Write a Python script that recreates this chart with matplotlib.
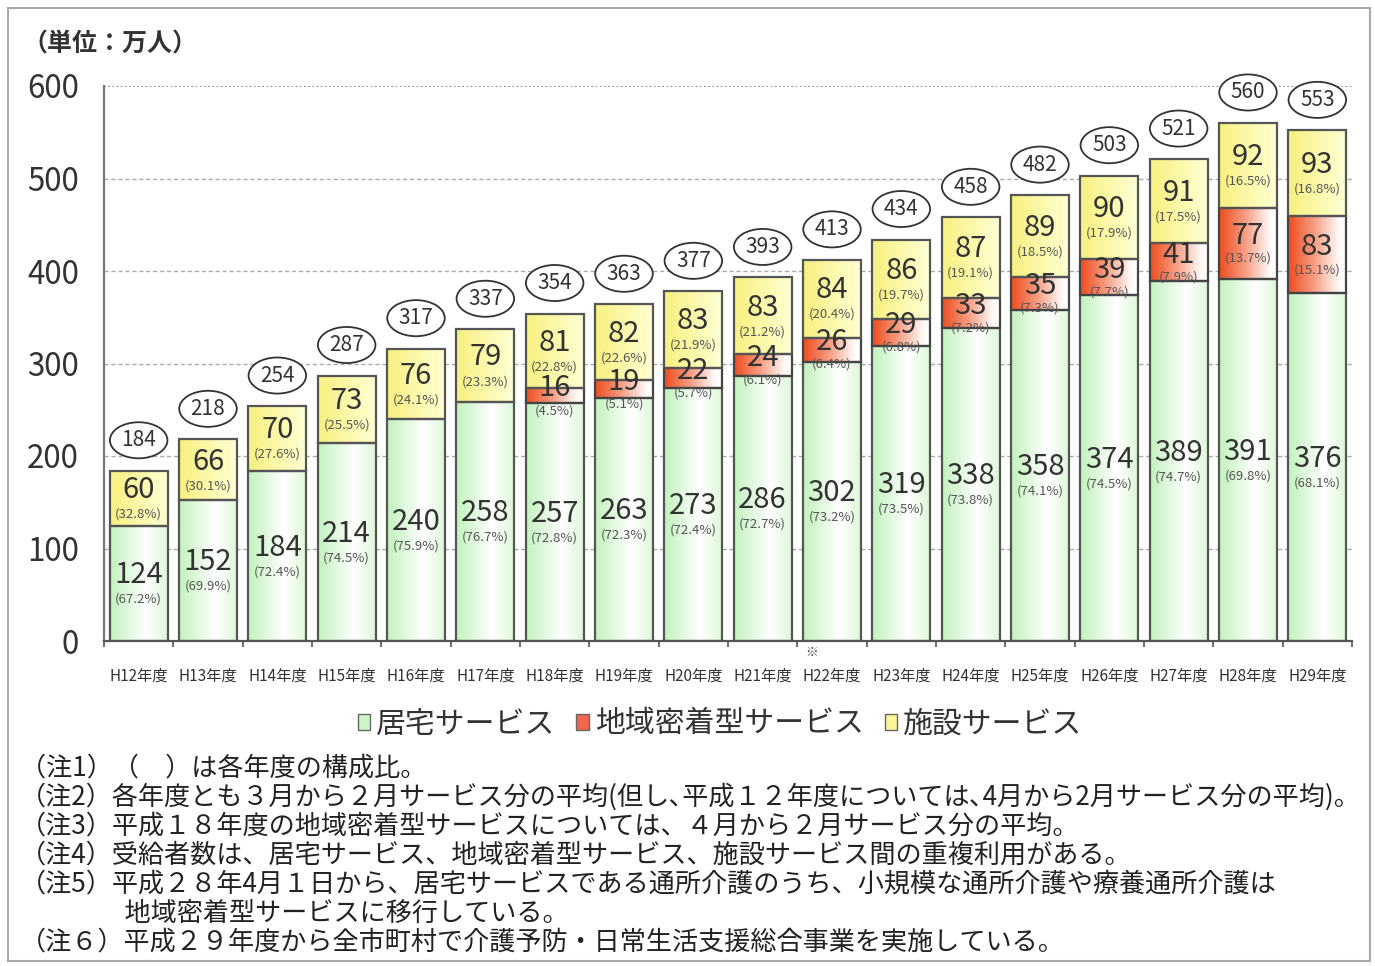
import numpy as np
import matplotlib
matplotlib.use("Agg")
import matplotlib.pyplot as plt
from matplotlib.patches import Ellipse, Rectangle, Patch

plt.rcParams['font.family'] = ['Noto Sans CJK JP', 'DejaVu Sans']

years = ["H12年度", "H13年度", "H14年度", "H15年度", "H16年度", "H17年度", "H18年度", "H19年度", "H20年度",
         "H21年度", "H22年度", "H23年度", "H24年度", "H25年度", "H26年度", "H27年度", "H28年度", "H29年度"]
home = [124, 152, 184, 214, 240, 258, 257, 263, 273, 286, 302, 319, 338, 358, 374, 389, 391, 376]
home_pct = [67.2, 69.9, 72.4, 74.5, 75.9, 76.7, 72.8, 72.3, 72.4, 72.7, 73.2, 73.5, 73.8, 74.1, 74.5, 74.7, 69.8, 68.1]
local = [0, 0, 0, 0, 0, 0, 16, 19, 22, 24, 26, 29, 33, 35, 39, 41, 77, 83]
local_pct = [None, None, None, None, None, None, 4.5, 5.1, 5.7, 6.1, 6.4, 6.8, 7.2, 7.3, 7.7, 7.9, 13.7, 15.1]
facility = [60, 66, 70, 73, 76, 79, 81, 82, 83, 83, 84, 86, 87, 89, 90, 91, 92, 93]
facility_pct = [32.8, 30.1, 27.6, 25.5, 24.1, 23.3, 22.8, 22.6, 21.9, 21.2, 20.4, 19.7, 19.1, 18.5, 17.9, 17.5, 16.5, 16.8]
totals = [184, 218, 254, 287, 317, 337, 354, 363, 377, 393, 413, 434, 458, 482, 503, 521, 560, 553]
series_names = ["居宅サービス", "地域密着型サービス", "施設サービス"]
yticks = [0, 100, 200, 300, 400, 500, 600]

notes = [
    "（注1）（　）は各年度の構成比。",
    "（注2）各年度とも３月から２月サービス分の平均(但し､平成１２年度については､4月から2月サービス分の平均)。",
    "（注3）平成１８年度の地域密着型サービスについては、４月から２月サービス分の平均。",
    "（注4）受給者数は、居宅サービス、地域密着型サービス、施設サービス間の重複利用がある。",
    "（注5）平成２８年4月１日から、居宅サービスである通所介護のうち、小規模な通所介護や療養通所介護は",
    "　　　　地域密着型サービスに移行している。",
    "（注６）平成２９年度から全市町村で介護予防・日常生活支援総合事業を実施している。",
]

W, H = 1375, 966
fig = plt.figure(figsize=(W / 100, H / 100), dpi=100)
fig.patch.set_facecolor('white')
ax = fig.add_axes([104 / W, 1 - 641 / H, (1352 - 104) / W, (641 - 86) / H])

x = np.arange(len(years))
bw = 0.84

def make_grad(stops):
    n = 256
    t = np.linspace(0, 1, n)
    pos = [s[0] for s in stops]
    img = np.zeros((1, n, 3))
    for c in range(3):
        img[0, :, c] = np.interp(t, pos, [s[1][c] for s in stops])
    return img

g_green = make_grad([(0, (0.76, 0.95, 0.74)), (0.62, (1, 1, 1)), (1, (0.86, 0.97, 0.84))])
g_red = make_grad([(0, (0.93, 0.30, 0.12)), (0.45, (0.97, 0.62, 0.52)), (0.85, (1, 0.97, 0.96)), (1, (1, 1, 1))])
g_yel = make_grad([(0, (0.97, 0.94, 0.50)), (0.6, (0.99, 0.98, 0.70)), (1, (1.0, 1.0, 0.84))])

home_a = np.array(home)
local_a = np.array(local)
fac_a = np.array(facility)

b1 = ax.bar(x, home_a, bw, facecolor='none', edgecolor='#555555', linewidth=1.6, zorder=3)
b2 = ax.bar(x, local_a, bw, bottom=home_a, facecolor='none', edgecolor='#444444', linewidth=1.6, zorder=3)
b3 = ax.bar(x, fac_a, bw, bottom=home_a + local_a, facecolor='none', edgecolor='#555555', linewidth=1.6, zorder=3)

for bars, grad in ((b1, g_green), (b2, g_red), (b3, g_yel)):
    for p in bars:
        h = p.get_height()
        if h <= 0:
            p.set_visible(False)
            continue
        x0 = p.get_x()
        y0 = p.get_y()
        ax.imshow(grad, extent=[x0, x0 + p.get_width(), y0, y0 + h], aspect='auto', zorder=2, interpolation='bilinear')

tc = '#333333'
pc = '#555555'
for i in range(len(x)):
    c = home[i] / 2
    ax.text(x[i], c + 9, str(home[i]), ha='center', va='center', fontsize=21, color=tc, zorder=5)
    ax.text(x[i], c - 17, f"({home_pct[i]}%)", ha='center', va='center', fontsize=9.5, color=pc, zorder=5)
    if local[i] > 0:
        c = home[i] + local[i] / 2
        ax.text(x[i], c + 8, str(local[i]), ha='center', va='center', fontsize=21, color=tc, zorder=5)
        ax.text(x[i], c - 16, f"({local_pct[i]}%)", ha='center', va='center', fontsize=9.5, color=pc, zorder=5)
    c = home[i] + local[i] + facility[i] / 2
    ax.text(x[i], c + 9, str(facility[i]), ha='center', va='center', fontsize=21, color=tc, zorder=5)
    ax.text(x[i], c - 17, f"({facility_pct[i]}%)", ha='center', va='center', fontsize=9.5, color=pc, zorder=5)
    top = home[i] + local[i] + facility[i]
    cy = top + 33
    ax.add_patch(Ellipse((x[i], cy), 0.83, 39, facecolor='white', edgecolor='#333333', linewidth=1.3,
                         zorder=6, clip_on=False))
    ax.text(x[i], cy, str(totals[i]), ha='center', va='center', fontsize=15, color=tc, zorder=7, clip_on=False)

ax.set_xlim(-0.5, len(x) - 0.5)
ax.set_ylim(0, 600)
ax.set_yticks(yticks)
ax.set_yticklabels([str(v) for v in yticks], fontsize=22.5, color='#333333')
ax.tick_params(axis='y', length=0, pad=18)
ax.set_xticks(x)
ax.set_xticklabels(years, fontsize=11, color='#333333')
ax.tick_params(axis='x', length=0, pad=19)
ax.set_xticks(np.arange(len(x) + 1) - 0.5, minor=True)
ax.tick_params(axis='x', which='minor', length=4, width=1.2, color='#555555', direction='out')

for v in yticks[1:-1]:
    ax.axhline(v, color='#aaaaaa', linewidth=1.0, linestyle=(0, (3, 2)), zorder=1)
ax.axhline(600, color='#777777', linewidth=1.2, linestyle=(0, (1, 1.5)), zorder=1)

for s in ['top', 'right']:
    ax.spines[s].set_visible(False)
ax.spines['left'].set_color('#777777')
ax.spines['left'].set_linewidth(1.6)
ax.spines['bottom'].set_color('#555555')
ax.spines['bottom'].set_linewidth(1.6)

ax.text(10 - 0.3, -12, "※", ha='center', va='center', fontsize=9, color='#333333', clip_on=False)

fig.text(22 / W, 1 - 45 / H, "（単位：万人）", fontsize=18, fontweight='bold', color='#333333',
         ha='left', va='center')

handles = [Patch(facecolor=(0.80, 0.96, 0.78), edgecolor='#666666', linewidth=1.0),
           Patch(facecolor=(0.95, 0.40, 0.30), edgecolor='#666666', linewidth=1.0),
           Patch(facecolor=(0.98, 0.96, 0.60), edgecolor='#666666', linewidth=1.0)]
fig.legend(handles, series_names, loc='center', bbox_to_anchor=(720 / W, 1 - 724 / H), ncol=3,
           frameon=False, fontsize=21.5, handlelength=0.42, handleheight=0.42, handletextpad=0.2,
           columnspacing=0.7, labelcolor='#333333')

ys = [768, 797, 826, 855, 884, 913, 942]
for t, yy in zip(notes, ys):
    fig.text(20 / W, 1 - yy / H, t, fontsize=18.8, color='#222222', ha='left', va='center')

fig.patches.append(Rectangle((8 / W, 1 - 961 / H), (1370 - 8) / W, (961 - 8) / H, transform=fig.transFigure,
                             fill=False, edgecolor='#aaaaaa', linewidth=1.5))

fig.savefig("out.png", dpi=100)
